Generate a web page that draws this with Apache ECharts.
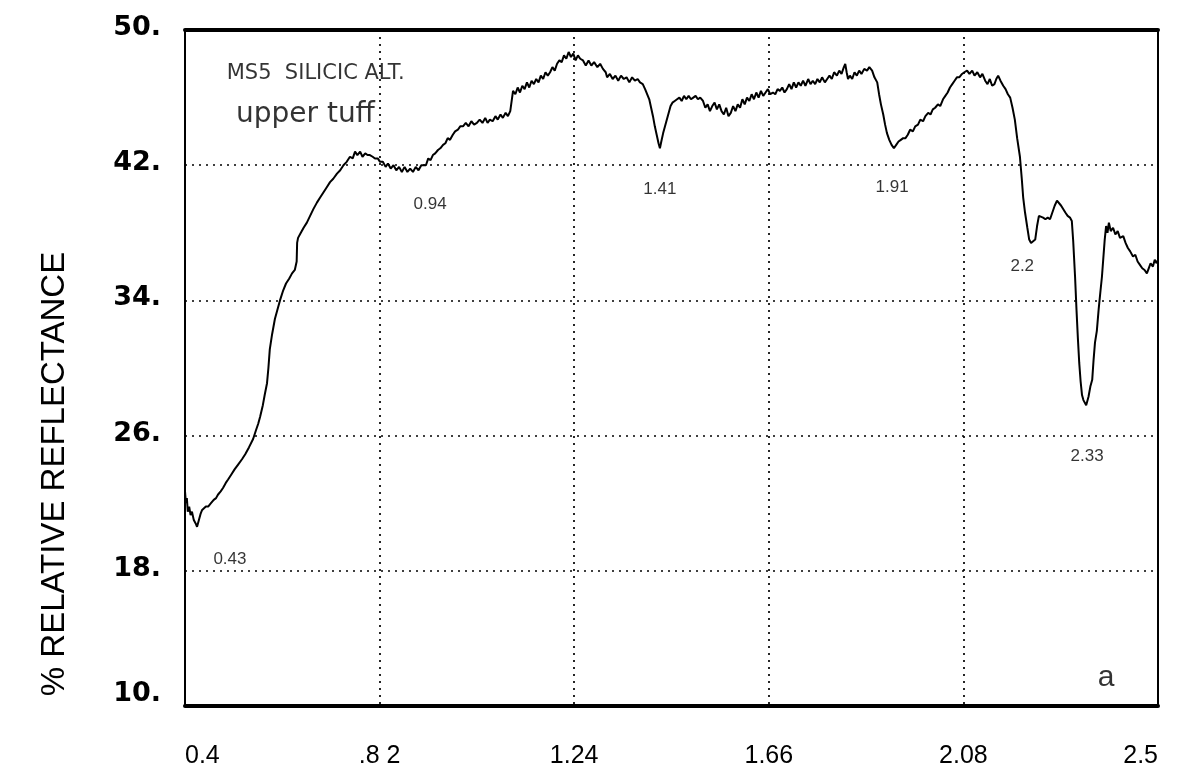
<!DOCTYPE html>
<html>
<head>
<meta charset="utf-8">
<script src="https://cdn.jsdelivr.net/npm/echarts@6/dist/echarts.min.js"></script>
<style>
  html, body { margin: 0; padding: 0; background: #fff; }
  #chart { width: 1198px; height: 778px; }
</style>
</head>
<body>
<div id="chart"></div>
<script>
// Spectral reflectance curve, sample MS5 (silicic alteration, upper tuff)
const wavelength = [
  0.400,0.402,0.404,0.406,0.409,0.412,0.415,0.419,0.423,0.426,0.430,0.434,0.437,0.441,0.445,0.450,
  0.456,0.462,0.467,0.471,0.477,0.482,0.488,0.493,0.500,0.507,0.515,0.523,0.530,0.538,0.547,0.553,
  0.558,0.562,0.568,0.572,0.577,0.580,0.583,0.588,0.594,0.599,0.605,0.612,0.618,0.625,0.631,0.637,
  0.641,0.642,0.644,0.650,0.656,0.663,0.670,0.677,0.685,0.692,0.699,0.706,0.713,0.720,0.728,0.735,
  0.742,0.749,0.756,0.762,0.767,0.772,0.778,0.783,0.789,0.794,0.799,0.805,0.810,0.816,0.821,0.827,
  0.833,0.838,0.844,0.850,0.856,0.862,0.868,0.874,0.880,0.886,0.892,0.898,0.904,0.910,0.914,0.920,
  0.925,0.930,0.935,0.940,0.946,0.951,0.957,0.962,0.967,0.972,0.978,0.983,0.989,0.994,1.000,1.006,
  1.012,1.018,1.024,1.030,1.036,1.042,1.048,1.053,1.058,1.064,1.070,1.075,1.081,1.086,1.092,1.097,
  1.102,1.106,1.108,1.113,1.118,1.123,1.128,1.133,1.138,1.143,1.148,1.153,1.158,1.163,1.168,1.173,
  1.178,1.183,1.188,1.193,1.198,1.203,1.208,1.213,1.218,1.223,1.228,1.233,1.238,1.243,1.248,1.253,
  1.259,1.265,1.271,1.277,1.283,1.290,1.296,1.302,1.308,1.311,1.317,1.323,1.329,1.335,1.341,1.347,
  1.353,1.359,1.365,1.371,1.377,1.382,1.388,1.393,1.397,1.402,1.406,1.410,1.414,1.418,1.422,1.425,
  1.428,1.432,1.436,1.440,1.444,1.448,1.452,1.457,1.462,1.467,1.472,1.477,1.482,1.487,1.492,1.497,
  1.502,1.507,1.512,1.518,1.523,1.528,1.533,1.538,1.543,1.548,1.553,1.558,1.563,1.568,1.573,1.578,
  1.583,1.588,1.593,1.598,1.603,1.608,1.613,1.618,1.623,1.628,1.633,1.638,1.643,1.648,1.653,1.658,
  1.663,1.669,1.674,1.679,1.684,1.689,1.694,1.699,1.704,1.709,1.714,1.719,1.724,1.729,1.734,1.739,
  1.745,1.750,1.755,1.760,1.765,1.770,1.775,1.781,1.786,1.791,1.796,1.801,1.807,1.812,1.817,1.822,
  1.825,1.828,1.831,1.835,1.840,1.845,1.850,1.855,1.860,1.866,1.872,1.877,1.883,1.888,1.894,1.898,
  1.902,1.907,1.911,1.915,1.920,1.925,1.930,1.935,1.940,1.945,1.950,1.955,1.960,1.965,1.971,1.976,
  1.982,1.987,1.993,1.998,2.004,2.009,2.014,2.019,2.025,2.030,2.036,2.041,2.046,2.051,2.056,2.061,
  2.066,2.071,2.077,2.082,2.088,2.093,2.099,2.104,2.110,2.116,2.121,2.127,2.132,2.137,2.142,2.147,
  2.151,2.155,2.160,2.166,2.171,2.176,2.181,2.186,2.191,2.196,2.202,2.206,2.209,2.213,2.218,2.222,
  2.226,2.230,2.235,2.239,2.243,2.247,2.252,2.257,2.262,2.267,2.272,2.277,2.282,2.286,2.291,2.295,
  2.300,2.305,2.310,2.314,2.317,2.321,2.324,2.327,2.330,2.333,2.336,2.339,2.343,2.345,2.347,2.350,
  2.354,2.358,2.361,2.364,2.368,2.372,2.376,2.379,2.382,2.385,2.388,2.391,2.394,2.398,2.403,2.408,
  2.413,2.418,2.425,2.430,2.435,2.440,2.446,2.451,2.456,2.461,2.466,2.471,2.476,2.480,2.484,2.489,
  2.493,2.497,2.500
];
const reflectance = [
  22.7,22.0,22.3,21.5,21.8,21.3,21.5,21.0,20.8,20.6,21.0,21.4,21.6,21.5,21.8,21.8,
  22.0,22.2,22.3,22.5,22.7,22.9,23.2,23.4,23.7,24.0,24.3,24.6,24.9,25.3,25.8,26.3,
  26.7,27.1,27.8,28.4,29.1,30.0,31.1,32.0,32.9,33.4,34.0,34.6,35.0,35.3,35.6,35.8,
  36.3,37.4,37.7,38.0,38.3,38.6,39.0,39.4,39.8,40.1,40.4,40.7,41.0,41.2,41.5,41.7,
  42.0,42.2,42.5,42.4,42.8,42.6,42.8,42.5,42.7,42.6,42.6,42.5,42.4,42.4,42.2,42.2,
  41.9,42.1,41.8,42.0,41.7,41.9,41.6,41.9,41.6,41.8,41.6,41.9,41.7,42.0,42.1,42.0,
  42.4,42.3,42.6,42.7,42.9,43.0,43.2,43.3,43.6,43.5,43.8,44.0,44.1,44.3,44.3,44.5,
  44.3,44.6,44.4,44.5,44.7,44.5,44.8,44.5,44.7,44.6,44.9,44.7,45.0,44.8,45.1,44.9,
  45.2,45.3,46.4,46.2,46.6,46.3,46.7,46.5,46.9,46.6,47.0,46.8,47.1,46.9,47.3,47.1,
  47.5,47.3,47.5,47.8,47.6,48.0,48.2,48.1,48.5,48.3,48.7,48.4,48.6,48.2,48.5,48.3,
  48.2,47.9,48.2,47.9,48.1,47.8,48.0,47.7,47.5,47.2,47.4,47.1,47.3,47.0,47.3,47.1,
  47.2,46.9,47.2,47.0,47.1,46.9,46.8,46.5,46.4,45.9,45.4,44.9,44.3,43.8,43.3,43.0,
  43.4,43.9,44.3,44.7,45.1,45.5,45.7,45.8,45.9,46.0,45.8,46.1,45.9,46.1,45.9,46.0,
  46.1,45.9,46.0,45.8,45.4,45.6,45.2,45.5,45.7,45.3,45.6,45.2,45.0,45.4,44.9,45.1,
  45.5,45.2,45.6,45.4,45.9,45.6,46.0,45.8,46.2,45.9,46.3,46.0,46.4,46.1,46.3,46.5,
  46.2,46.3,46.2,46.5,46.4,46.6,46.3,46.5,46.8,46.5,46.9,46.6,46.9,46.7,47.0,46.7,
  47.1,46.8,47.0,46.8,47.1,46.9,47.2,46.9,47.1,47.3,47.1,47.5,47.3,47.6,47.4,47.8,
  48.0,47.5,47.1,47.3,47.1,47.5,47.3,47.6,47.4,47.7,47.6,47.8,47.6,47.2,46.9,46.2,
  45.6,45.0,44.4,43.9,43.5,43.2,43.0,43.2,43.4,43.5,43.6,43.6,43.8,44.1,44.0,44.3,
  44.4,44.7,44.6,44.9,45.1,45.0,45.3,45.4,45.6,45.5,45.9,46.1,46.3,46.6,46.8,47.0,
  47.2,47.2,47.4,47.5,47.6,47.4,47.6,47.3,47.5,47.2,47.4,47.0,46.8,47.1,46.7,46.8,
  47.1,47.3,47.0,46.7,46.5,46.2,46.0,45.4,44.7,43.6,42.5,41.2,40.1,39.2,38.3,37.6,
  37.4,37.5,37.6,38.4,39.0,39.1,38.9,38.8,38.9,38.8,39.2,39.6,39.9,39.8,39.6,39.5,
  39.2,39.0,38.9,38.7,37.5,35.4,33.5,31.8,30.3,29.2,28.4,28.1,28.2,27.8,27.9,28.3,
  28.9,29.3,30.5,31.5,32.2,33.5,34.6,35.4,36.5,37.6,38.4,38.0,38.6,38.1,38.3,37.9,
  38.1,37.7,37.8,37.4,37.1,36.9,36.6,36.7,36.3,36.1,35.9,35.8,35.6,35.9,36.2,36.0,
  36.4,36.2,36.4
];

// Axis ticks
const xStart = 0.4, xStep = 0.42, xEnd = 2.5;
const xTickLabels = ['0.4', '.8 2', '1.24', '1.66', '2.08', '2.5'];
const yStart = 10, yStep = 8, yEnd = 50;
const yTickLabels = ['10.', '18.', '26.', '34.', '42.', '50.'];

// Text notes placed in data coordinates
const noteText = ['MS5  SILICIC ALT.', 'upper tuff', '0.94', '1.41', '1.91', '2.2', '2.33', '0.43', 'a'];
const noteX    = [0.490, 0.510, 0.929, 1.425, 1.926, 2.207, 2.347, 0.497, 2.388];
const noteY    = [47.4, 45.0, 39.7, 40.6, 40.7, 36.0, 24.8, 18.7, 11.7];

// The axes run from 0 so that the fixed tick interval lands on the labelled values
const curve = wavelength.map((w, i) => [w - xStart, reflectance[i] - yStart]);

const noteStyle = {
  'MS5  SILICIC ALT.': { fontSize: 21, align: 'left', fontFamily: '"DejaVu Sans", sans-serif' },
  'upper tuff': { fontSize: 28, align: 'left', fontFamily: '"DejaVu Sans", sans-serif' },
  'a': { fontSize: 30, align: 'center' }
};
const font = '"Liberation Sans", Arial, Helvetica, sans-serif';
const notes = noteText.map((t, i) => {
  const s = noteStyle[t] || { fontSize: 17, align: 'center' };
  return {
    value: [noteX[i] - xStart, noteY[i] - yStart, t],
    label: { fontSize: s.fontSize, align: s.align, fontFamily: s.fontFamily || font }
  };
});

const dotted = { color: '#000', width: 1.7, type: [2, 5] };
const tickFont = '"DejaVu Sans", ' + font;

const chart = echarts.init(document.getElementById('chart'), null, { renderer: 'canvas' });
chart.setOption({
  backgroundColor: '#fff',
  animation: false,
  grid: {
    left: 185, right: 40, top: 30, bottom: 72,
    show: true, borderColor: '#000', borderWidth: 2
  },
  graphic: [{
    type: 'text',
    x: 55, y: 474,
    rotation: Math.PI / 2,
    style: {
      text: '% RELATIVE REFLECTANCE',
      fill: '#000',
      font: '33px "Liberation Sans", Arial, sans-serif',
      textAlign: 'center',
      textVerticalAlign: 'middle'
    }
  }],
  xAxis: [{
    type: 'value',
    min: 0, max: xEnd - xStart, interval: xStep,
    axisLine: { show: true, onZero: false, lineStyle: { color: '#000', width: 4 } },
    axisTick: { show: false },
    splitLine: { show: true, lineStyle: dotted },
    axisLabel: {
      margin: 38,
      color: '#000',
      fontFamily: '"Liberation Sans Narrow", ' + font,
      fontSize: 25,
      alignMinLabel: 'left',
      alignMaxLabel: 'right',
      formatter: v => xTickLabels[Math.round(v / xStep)]
    }
  }, {
    type: 'value', position: 'top',
    min: 0, max: xEnd - xStart, interval: xStep,
    axisLine: { show: true, onZero: false, lineStyle: { color: '#000', width: 4 } },
    axisTick: { show: false }, axisLabel: { show: false }, splitLine: { show: false }
  }],
  yAxis: {
    type: 'value',
    min: 0, max: yEnd - yStart, interval: yStep,
    axisLine: { show: true, lineStyle: { color: '#000', width: 2 } },
    axisTick: { show: false },
    splitLine: { show: true, lineStyle: dotted },
    axisLabel: {
      margin: 24,
      color: '#000',
      formatter: v => {
        const t = yTickLabels[Math.round(v / yStep)];
        return v === 0 ? '{low|' + t + '}' : '{up|' + t + '}';
      },
      rich: {
        up: { padding: [0, 0, 4, 0], fontSize: 27, fontWeight: 'bold', fontFamily: tickFont },
        low: { padding: [0, 0, 24, 0], fontSize: 27, fontWeight: 'bold', fontFamily: tickFont }
      }
    }
  },
  series: [{
    name: 'reflectance',
    type: 'line',
    data: curve,
    showSymbol: false,
    symbol: 'none',
    lineStyle: { color: '#000', width: 2 },
    z: 3
  }, {
    name: 'notes',
    type: 'scatter',
    data: notes,
    symbolSize: 0,
    silent: true,
    label: {
      show: true,
      position: 'inside',
      color: '#000',
      formatter: p => p.data.value[2]
    },
    z: 4
  }]
});
</script>
</body>
</html>
